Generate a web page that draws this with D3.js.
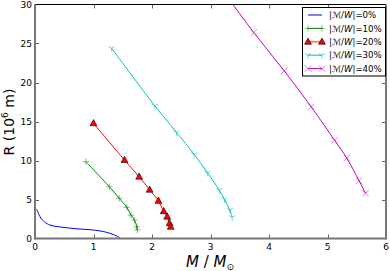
<!DOCTYPE html>
<html><head><meta charset="utf-8">
<script src="https://cdn.jsdelivr.net/npm/d3@7"></script>
<style>body{margin:0;background:#fff}svg{display:block}text{font-family:"DejaVu Sans",sans-serif}</style>
</head><body><svg id="c" width="390" height="271"></svg>
<script>
// data
const xTicks = [0,1,2,3,4,5,6];
const yTicks = [0,5,10,15,20,25,30];
const labels = ["0%","10%","20%","30%","40%"];
const colors = ["#0000ff","#008000","#ff0000","#00bfbf","#bf00bf"];
const s0x = [0.03,0.085,0.16,0.256,0.36,0.48,0.7,1.0,1.15,1.28,1.36,1.42,1.46];
const s0y = [3.74,2.8,2.15,1.73,1.55,1.43,1.25,1.09,0.92,0.67,0.45,0.23,0.0];
const s1x = [0.87,1.27,1.44,1.57,1.64,1.70,1.74,1.75];
const s1y = [9.85,6.64,5.15,4.0,3.0,2.37,1.5,1.09];
const s2x = [1.0,1.53,1.78,1.96,2.11,2.2,2.26,2.30,2.32];
const s2y = [14.77,10.06,7.92,6.25,4.82,3.5,2.8,1.95,1.5];
const s3x = [1.31,2.05,2.42,2.72,2.95,3.15,3.24,3.33,3.37];
const s3y = [24.4,17.0,13.6,10.8,8.4,6.2,5.0,3.65,2.7];
const s4x = [3.22,3.74,4.26,4.72,5.12,5.33,5.54,5.65];
const s4y = [31.7,26.4,21.5,16.9,12.6,10.3,7.4,5.8];
const seriesX = [s0x,s1x,s2x,s3x,s4x];
const seriesY = [s0y,s1y,s2y,s3y,s4y];
const markers = ["none","plus","tri","tridown","x"];

const svg = d3.select("#c");
const L=35,R=386,T=4.5,B=238.5;
const x = d3.scaleLinear().domain([0,6]).range([L,R]);
const y = d3.scaleLinear().domain([0,30]).range([B,T]);

svg.append("defs").append("clipPath").attr("id","clip")
  .append("rect").attr("x",L).attr("y",T).attr("width",R-L).attr("height",B-T);

function markerPath(type, s){
  if(type==="plus") return `M${-s},0H${s}M0,${-s}V${s}`;
  if(type==="x") return `M${-s},${-s}L${s},${s}M${-s},${s}L${s},${-s}`;
  if(type==="tridown") return `M0,0V${s}M0,0L${-s*0.87},${-s*0.5}M0,0L${s*0.87},${-s*0.5}`;
  if(type==="tri") return `M0,${-s}L${s*0.9},${s*0.65}L${-s*0.9},${s*0.65}Z`;
  return "";
}

function drawMarker(g, type, color, px, py){
  if(type==="none") return;
  const p = g.append("path").attr("transform",`translate(${px},${py})`);
  if(type==="tri"){
    p.attr("d",markerPath("tri",3.8)).attr("fill","#ff0000").attr("stroke","#000").attr("stroke-width",0.6);
  } else if(type==="tridown"){
    p.attr("d",markerPath("tridown",3.5)).attr("fill","none").attr("stroke",color).attr("stroke-opacity",0.6).attr("stroke-width",1);
  } else {
    p.attr("d",markerPath(type,3.2)).attr("fill","none").attr("stroke",color).attr("stroke-opacity",0.5).attr("stroke-width",1);
  }
}

// ticks (inward) on all sides
const tk = svg.append("g").attr("stroke","#666").attr("stroke-width",1);
xTicks.forEach(v=>{
  const px = Math.round(x(v))+0.5;
  if(v>0 && v<6){
    tk.append("line").attr("x1",px).attr("x2",px).attr("y1",B).attr("y2",B-4);
    tk.append("line").attr("x1",px).attr("x2",px).attr("y1",T).attr("y2",T+4);
  }
});
yTicks.forEach(v=>{
  const py = Math.round(y(v))+0.5;
  if(v>0 && v<30){
    tk.append("line").attr("x1",L).attr("x2",L+4).attr("y1",py).attr("y2",py);
    tk.append("line").attr("x1",R).attr("x2",R-4).attr("y1",py).attr("y2",py);
  }
});

// series
const plot = svg.append("g").attr("clip-path","url(#clip)");
seriesX.forEach((xs,i)=>{
  const pts = xs.map((v,j)=>[v,seriesY[i][j]]);
  const gen = d3.line().curve(i===0 ? d3.curveMonotoneX : d3.curveCatmullRom).x(d=>x(d[0])).y(d=>y(d[1]));
  plot.append("path").attr("d", gen(pts))
    .attr("fill","none").attr("stroke",colors[i]).attr("stroke-width",1);
  pts.forEach(p=>drawMarker(plot, markers[i], colors[i], x(p[0]), y(p[1])));
});

// spines
svg.append("line").attr("x1",L).attr("x2",R).attr("y1",T).attr("y2",T).attr("stroke","#000").attr("stroke-width",1);
svg.append("line").attr("x1",L).attr("x2",R).attr("y1",B).attr("y2",B).attr("stroke","#777").attr("stroke-width",2);
svg.append("line").attr("x1",L).attr("x2",L).attr("y1",T).attr("y2",B+1).attr("stroke","#777").attr("stroke-width",2);
svg.append("line").attr("x1",R).attr("x2",R).attr("y1",T).attr("y2",B+1).attr("stroke","#777").attr("stroke-width",2);

// tick labels
xTicks.forEach(v=>{
  svg.append("text").attr("x",x(v)).attr("y",250).attr("text-anchor","middle")
    .attr("font-size",9).attr("fill","#000").text(v);
});
yTicks.forEach(v=>{
  svg.append("text").attr("x",32).attr("y",y(v)+3.2).attr("text-anchor","end")
    .attr("font-size",9).attr("fill","#000").text(v);
});

// axis labels
const xl = svg.append("text").attr("x",210).attr("y",266.5).attr("text-anchor","middle")
  .attr("font-family","Liberation Serif").attr("font-style","italic").attr("font-size",15).attr("fill","#000");
xl.append("tspan").text("M");
xl.append("tspan").attr("font-style","normal").text(" / ");
xl.append("tspan").text("M");
xl.append("tspan").attr("font-size",9).attr("dy",3).attr("font-style","normal").attr("font-family","DejaVu Sans").text("⊙");

const yl = svg.append("text").attr("transform","translate(14,122) rotate(-90)").attr("text-anchor","middle")
  .attr("font-size",14).attr("fill","#000");
yl.append("tspan").text("R (10");
yl.append("tspan").attr("font-size",9).attr("dy",-6).text("6");
yl.append("tspan").attr("dy",6).text(" m)");

// legend
const lg = svg.append("g");
lg.append("rect").attr("x",302.5).attr("y",7.5).attr("width",83).attr("height",68.5)
  .attr("fill","#fff").attr("stroke","#000").attr("stroke-width",1);
labels.forEach((lab,i)=>{
  const ly = 15+i*13.4;
  lg.append("line").attr("x1",308).attr("x2",322).attr("y1",ly).attr("y2",ly)
    .attr("stroke",colors[i]).attr("stroke-width",i===2?2:1).attr("stroke-opacity", i===2?0.5:1);
  drawMarker(lg, markers[i], colors[i], 308, ly);
  drawMarker(lg, markers[i], colors[i], 322, ly);
  const t = lg.append("text").attr("x",329).attr("y",ly+3.2).attr("font-size",8.6).attr("fill","#000");
  t.append("tspan").text("|");
  t.append("tspan").attr("font-style","italic").text("ℳ");
  t.append("tspan").text("/");
  t.append("tspan").attr("font-style","italic").text("W");
  t.append("tspan").text("|="+lab);
});
</script></body></html>
